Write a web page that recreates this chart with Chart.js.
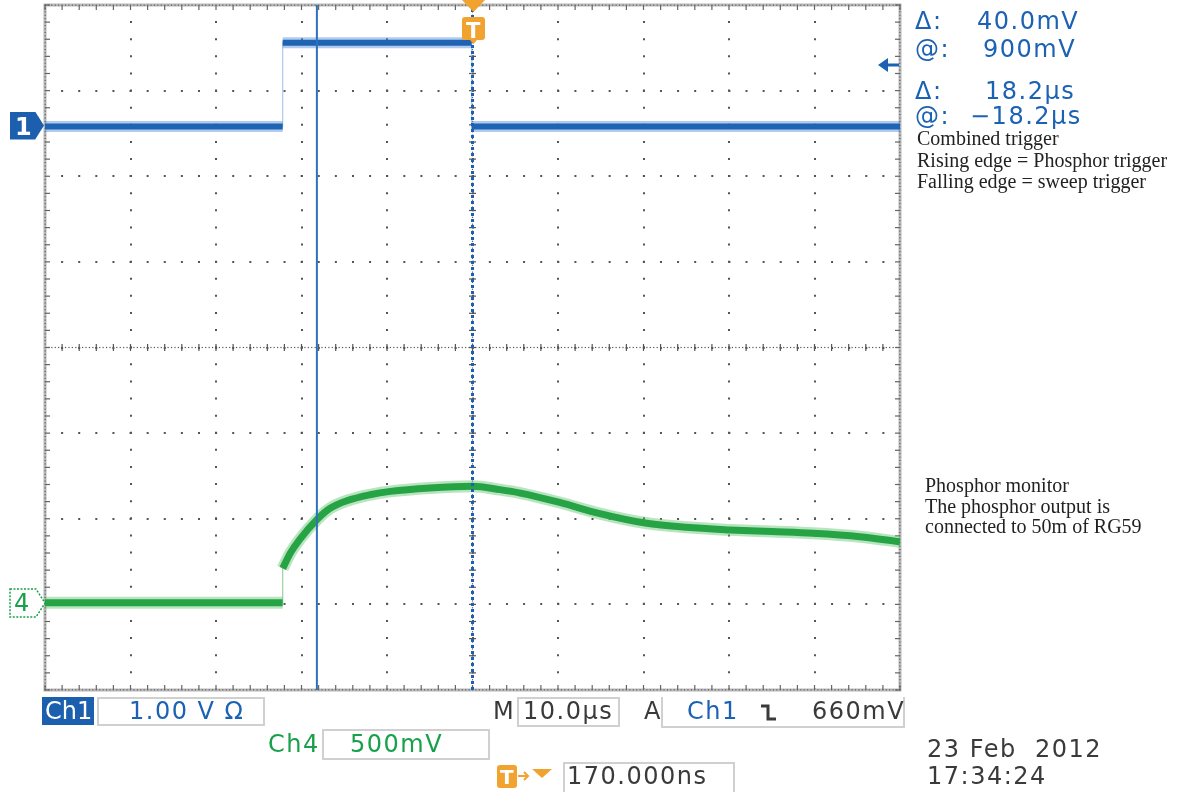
<!DOCTYPE html>
<html>
<head>
<meta charset="utf-8">
<script src="https://cdn.jsdelivr.net/npm/chart.js@4.4.1/dist/chart.umd.min.js"></script>
<style>
  body { margin: 0; background: #fff; }
  #wrap { position: relative; width: 1180px; height: 792px; overflow: hidden; }
  #scope { position: absolute; left: 0; top: 0; }
  .t { position: absolute; white-space: pre; font-family: "DejaVu Sans", sans-serif; font-size: 24px; line-height: 24px; letter-spacing: 1.5px; }
  .blue { color: #1b62b4; }
  .green { color: #18a04a; }
  .grey { color: #3a3a3a; }
  .note { position: absolute; white-space: pre; font-family: "Liberation Serif", serif; font-size: 20px; line-height: 21.5px; color: #222; }
  .box { position: absolute; border: 2px solid #d0d0d0; box-sizing: border-box; }
  svg { position: absolute; overflow: visible; }
</style>
</head>
<body>
<div id="wrap">
  <canvas id="scope" width="1180" height="792"></canvas>

  <!-- cursor readouts -->
  <div class="t blue" style="left:915px;top:9px">Δ:</div>
  <div class="t blue" style="left:977px;top:9px">40.0mV</div>
  <div class="t blue" style="left:915px;top:37px">@:</div>
  <div class="t blue" style="left:983px;top:37px">900mV</div>
  <div class="t blue" style="left:915px;top:79px">Δ:</div>
  <div class="t blue" style="left:985px;top:79px">18.2µs</div>
  <div class="t blue" style="left:915px;top:104px">@:</div>
  <div class="t blue" style="left:970px;top:104px">−18.2µs</div>

  <div class="note" style="left:917px;top:128px">Combined trigger
Rising edge = Phosphor trigger
Falling edge = sweep trigger</div>
  <div class="note" style="left:925px;top:475px;line-height:20.5px">Phosphor monitor
The phosphor output is
connected to 50m of RG59</div>

  <!-- bottom readouts -->
  <div style="position:absolute;left:42px;top:697px;width:52px;height:28px;background:#1b5fae"></div>
  <div class="t" style="left:45px;top:699px;color:#fff;letter-spacing:0">Ch1</div>
  <div class="box" style="left:97px;top:697px;width:168px;height:29px"></div>
  <div class="t blue" style="left:129px;top:699px">1.00 V Ω</div>

  <div class="t grey" style="left:493px;top:699px">M</div>
  <div class="box" style="left:517px;top:697px;width:103px;height:30px"></div>
  <div class="t grey" style="left:523px;top:699px">10.0µs</div>

  <div class="t grey" style="left:644px;top:699px">A</div>
  <div class="box" style="left:661px;top:697px;width:244px;height:31px;border-top:none"></div>
  <div class="t blue" style="left:687px;top:699px">Ch1</div>
  <svg style="left:760px;top:703px" width="20" height="20"><path d="M1 3 H8 V16 H16" fill="none" stroke="#3a3a3a" stroke-width="3"/></svg>
  <div class="t grey" style="left:812px;top:699px">660mV</div>

  <div class="t green" style="left:268px;top:732px">Ch4</div>
  <div class="box" style="left:322px;top:729px;width:168px;height:31px"></div>
  <div class="t green" style="left:350px;top:732px">500mV</div>

  <svg style="left:496px;top:764px" width="58" height="26">
    <rect x="1" y="1" width="20" height="23" rx="3" fill="#f2a22e"/>
    <path d="M22 12 H32 M28 8 L32 12 L28 16" fill="none" stroke="#f2a22e" stroke-width="2"/>
    <polygon points="36,5 56,5 46,14" fill="#f2a22e"/>
  </svg>
  <div class="t" style="left:500px;top:765px;color:#fff;font-weight:bold;font-size:20px;letter-spacing:0">T</div>
  <div class="box" style="left:563px;top:762px;width:172px;height:34px"></div>
  <div class="t grey" style="left:567px;top:764px">170.000ns</div>

  <div class="t grey" style="left:927px;top:737px">23 Feb  2012</div>
  <div class="t grey" style="left:927px;top:764px">17:34:24</div>

  <!-- trigger position marker, level arrow and channel markers -->
  <svg style="left:460px;top:0px" width="26" height="46">
    <polygon points="2,0 25,0 13.5,12" fill="#f2a22e"/>
    <path d="M5 17 H22 Q25 17 25 20 V37 Q25 40 22 40 H17 L13.5 44 L10 40 H5 Q2 40 2 37 V20 Q2 17 5 17 Z" fill="#f2a22e"/>
  </svg>
  <div class="t" style="left:466px;top:19px;color:#fff;font-weight:bold;font-size:21px;letter-spacing:0">T</div>
  <svg style="left:878px;top:56px" width="22" height="18">
    <polygon points="0,9 10,2 10,16" fill="#1b62b4"/>
    <rect x="9" y="7.5" width="12" height="3" fill="#1b62b4"/>
  </svg>
  <div id="mark1" style="position:absolute;left:10px;width:34px;height:28px;background:#1b5fae;clip-path:polygon(0 0,74% 0,100% 50%,74% 100%,0 100%)"></div>
  <div id="mark1t" class="t" style="left:15px;color:#fff;font-weight:bold;letter-spacing:0">1</div>
  <svg id="mark4" style="left:9px" width="38" height="30">
    <polygon points="1,1 27,1 36,15 27,29 1,29" fill="#fff" stroke="#18a04a" stroke-width="1.5" stroke-dasharray="2,1.5"/>
  </svg>
  <div id="mark4t" class="t green" style="left:14px;letter-spacing:0">4</div>
</div>

<script>
// time in microseconds (M 10.0 µs/div, trigger at centre), levels in volts
const ch1TimeUs = [-50, -22.2, -22.2, -0.1, -0.1, 50];
const ch1Volts  = [0, 0, 0.98, 0.98, 0, 0];

const ch4TimeUs = [-50, -22.2, -22.2, -21.3, -20.2, -18.1, -16.7, -14.7, -12.0, -9.6, -5.0, 0, 3.2, 5.6, 10.2, 14.9, 20.2, 25.0, 30.1, 35.0, 39.8, 45.3, 50];
const ch4Volts  = [0, 0, 0.20, 0.29, 0.37, 0.49, 0.55, 0.595, 0.63, 0.65, 0.67, 0.68, 0.66, 0.64, 0.585, 0.52, 0.465, 0.44, 0.425, 0.415, 0.405, 0.385, 0.355];

const cursorTimesUs = [-18.2, 0];

const ch1VoltsPerDiv = 1.0;
const ch4VoltsPerDiv = 0.5;
const ch1OffsetDiv = 2.58;
const ch4OffsetDiv = -2.98;

function toPoints(times, volts, offset, vpd, breakVertical) {
  const pts = [];
  times.forEach((t, i) => {
    if (breakVertical && i > 0 && t === times[i - 1]) pts.push({ x: t, y: null });
    pts.push({ x: t, y: offset + volts[i] / vpd });
  });
  return pts;
}

const trace = (data, color, width, extra) => Object.assign({
  data, borderColor: color, borderWidth: width, pointRadius: 0, fill: false, spanGaps: false
}, extra || {});

const cursorSets = cursorTimesUs.map((t, i) => trace(
  [{ x: t, y: -4 }, { x: t, y: 4 }],
  i === 0 ? '#2f70bd' : '#1d5fb0',
  i === 0 ? 2 : 3,
  i === 0 ? {} : { borderDash: [3, 3] }
));

const ch1Band = toPoints(ch1TimeUs, ch1Volts, ch1OffsetDiv, ch1VoltsPerDiv, true);
const ch4Band = toPoints(ch4TimeUs, ch4Volts, ch4OffsetDiv, ch4VoltsPerDiv, true);

const datasets = [
  ...cursorSets,
  trace(ch1Band, '#1f63b3', 6),
  trace(ch1Band, 'rgba(80,140,215,0.45)', 11),
  trace(toPoints(ch1TimeUs, ch1Volts, ch1OffsetDiv, ch1VoltsPerDiv, false), 'rgba(120,165,220,0.6)', 1.2),
  trace(ch4Band, '#26a445', 7, { cubicInterpolationMode: 'monotone' }),
  trace(ch4Band, 'rgba(100,195,115,0.45)', 12, { cubicInterpolationMode: 'monotone' }),
  trace(toPoints(ch4TimeUs, ch4Volts, ch4OffsetDiv, ch4VoltsPerDiv, false), 'rgba(110,190,120,0.7)', 1.2)
];

// frame, centre crosshair and their minor tick marks
const graticule = {
  id: 'graticule',
  beforeDatasetsDraw(chart) {
    const { ctx, chartArea: a, scales: { x, y } } = chart;
    const dx = (a.right - a.left) / 50, dy = (a.bottom - a.top) / 40;
    const cx = x.getPixelForValue(0), cy = y.getPixelForValue(0);
    ctx.save();
    ctx.fillStyle = '#555';
    // centre lines: fine dots plus ticks at each minor division
    for (let i = 0; i <= 250; i++) ctx.fillRect(a.left + i * dx / 5 - 0.6, cy - 0.6, 1.2, 1.2);
    for (let i = 0; i <= 200; i++) ctx.fillRect(cx - 0.6, a.top + i * dy / 5 - 0.6, 1.2, 1.2);
    for (let i = 0; i <= 50; i++) ctx.fillRect(a.left + i * dx - 0.6, cy - 3.5, 1.2, 7);
    for (let i = 0; i <= 40; i++) ctx.fillRect(cx - 3.5, a.top + i * dy - 0.6, 7, 1.2);
    // frame
    ctx.strokeStyle = '#b8b8b8';
    ctx.lineWidth = 3;
    ctx.strokeRect(a.left, a.top, a.right - a.left, a.bottom - a.top);
    ctx.fillStyle = '#666';
    for (let i = 0; i <= 250; i++) {
      const px = a.left + i * dx / 5;
      ctx.fillRect(px - 0.5, a.top - 0.5, 1, 1.5);
      ctx.fillRect(px - 0.5, a.bottom - 1, 1, 1.5);
    }
    for (let i = 0; i <= 200; i++) {
      const py = a.top + i * dy / 5;
      ctx.fillRect(a.left - 0.5, py - 0.5, 1.5, 1);
      ctx.fillRect(a.right - 1, py - 0.5, 1.5, 1);
    }
    for (let i = 0; i <= 50; i++) {
      const px = a.left + i * dx;
      ctx.fillRect(px - 0.6, a.top, 1.2, 5);
      ctx.fillRect(px - 0.6, a.bottom - 5, 1.2, 5);
    }
    for (let i = 0; i <= 40; i++) {
      const py = a.top + i * dy;
      ctx.fillRect(a.left, py - 0.6, 5, 1.2);
      ctx.fillRect(a.right - 5, py - 0.6, 5, 1.2);
    }
    ctx.restore();
  }
};

const gridOpts = { color: '#555', lineWidth: 2, drawTicks: false };
const borderOpts = { display: false, dash: [2, 15.11], dashOffset: 1 };

const chart = new Chart(document.getElementById('scope'), {
  type: 'line',
  data: { datasets },
  options: {
    responsive: false,
    animation: false,
    events: [],
    devicePixelRatio: 1,
    layout: { padding: { left: 45, top: 5, right: 280, bottom: 102 } },
    plugins: { legend: { display: false }, tooltip: { enabled: false } },
    scales: {
      x: { type: 'linear', min: -50, max: 50, ticks: { display: false, stepSize: 10 }, grid: gridOpts, border: borderOpts },
      y: { type: 'linear', min: -4, max: 4, ticks: { display: false, stepSize: 1 }, grid: gridOpts, border: borderOpts }
    }
  },
  plugins: [graticule]
});

// channel ground markers follow the channel offsets
const g1 = chart.scales.y.getPixelForValue(ch1OffsetDiv);
const g4 = chart.scales.y.getPixelForValue(ch4OffsetDiv);
document.getElementById('mark1').style.top = (g1 - 15) + 'px';
document.getElementById('mark1t').style.top = (g1 - 12) + 'px';
document.getElementById('mark4').style.top = (g4 - 15) + 'px';
document.getElementById('mark4t').style.top = (g4 - 12) + 'px';
</script>
</body>
</html>
